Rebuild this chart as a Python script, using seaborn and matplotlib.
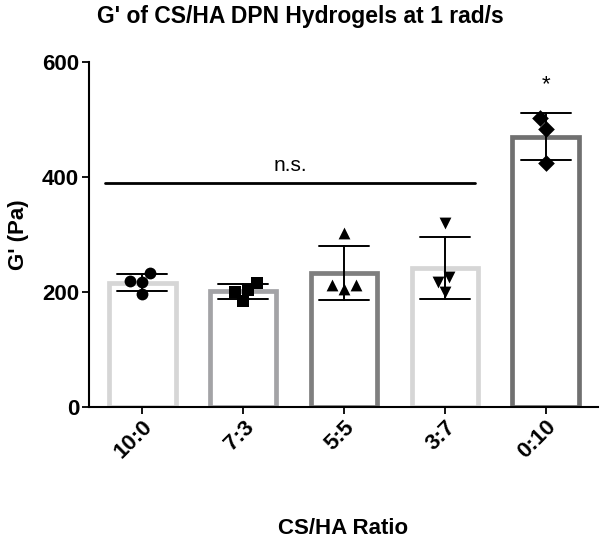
import pandas as pd
import seaborn as sns
import matplotlib.pyplot as plt

# CS/HA ratios and the individual G' readings (Pa) for each hydrogel
ratios = ["10:0", "7:3", "5:5", "3:7", "0:10"]
g_10_0 = [217, 233, 219, 196]
g_7_3 = [203, 216, 200, 184]
g_5_5 = [212, 303, 212, 205]
g_3_7 = [226, 320, 217, 200]
g_0_10 = [502, 484, 425]
bar_colors = ["#d6d6d6", "#a3a3a6", "#7f7f7f", "#d6d6d6", "#707070"]
markers = ["o", "s", "^", "v", "D"]

# significance annotations
ns_level = 390
ns_span = ["10:0", "3:7"]
star_level = 560

sns.set_theme(style="white", rc={"text.color": "black", "axes.labelcolor": "black",
                                 "xtick.color": "black", "ytick.color": "black"})
plt.rcParams["font.family"] = ["Liberation Sans", "DejaVu Sans"]

rows = []
for r, vals in zip(ratios, [g_10_0, g_7_3, g_5_5, g_3_7, g_0_10]):
    for v in vals:
        rows.append({"Ratio": r, "G": v})
df = pd.DataFrame(rows)

fig = plt.figure(figsize=(6.0, 5.49), dpi=100)
ax = fig.add_axes([0.148, 0.259, 0.849, 0.628])

sns.barplot(data=df, x="Ratio", y="G", hue="Ratio", order=ratios, hue_order=ratios,
            palette=bar_colors, fill=False, width=0.66, linewidth=3.4,
            errorbar="sd", capsize=0.5,
            err_kws={"color": "black", "linewidth": 1.4}, legend=False, ax=ax)

for r, m in zip(ratios, markers):
    sns.swarmplot(data=df[df["Ratio"] == r], x="Ratio", y="G", order=ratios,
                  marker=m, color="black", size=8.5, zorder=5, ax=ax)

ax.set_xlim(-0.53, 4.52)
ax.set_ylim(0, 600)
ax.set_yticks([0, 200, 400, 600])
sns.despine(ax=ax)
for s in ["left", "bottom"]:
    ax.spines[s].set_linewidth(1.5)
    ax.spines[s].set_color("black")
ax.tick_params(axis="both", which="major", direction="out", length=5, width=1.3,
               color="black", labelsize=16, bottom=True, left=True, pad=2)
for lab in ax.get_yticklabels():
    lab.set_fontweight("bold")
ax.set_xticks(range(len(ratios)))
ax.set_xticklabels(ratios, rotation=45, ha="right", rotation_mode="anchor",
                   fontweight="bold", fontsize=16)

ax.set_xlabel("CS/HA Ratio", fontsize=16, fontweight="bold", labelpad=40)
ax.set_ylabel("G' (Pa)", fontsize=16, fontweight="bold", labelpad=9)
fig.suptitle("G' of CS/HA DPN Hydrogels at 1 rad/s", x=0.5, y=0.99,
             fontsize=16.5, fontweight="bold")

# n.s. bar and significance star
x0 = ratios.index(ns_span[0]) - 0.37
x1 = ratios.index(ns_span[1]) + 0.30
ax.plot([x0, x1], [ns_level, ns_level], color="black", linewidth=2, zorder=4)
ax.text((x0 + x1) / 2, ns_level + 14, "n.s.", ha="center", va="bottom", fontsize=15)
ax.text(4, star_level, "*", ha="center", va="center", fontsize=16)

plt.savefig("out.png", dpi=100)
